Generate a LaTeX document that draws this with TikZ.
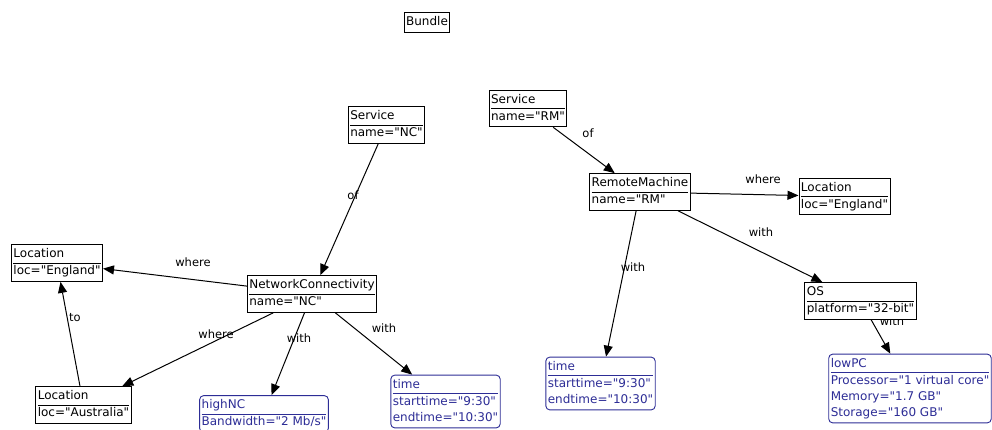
\documentclass[tikz,border=0pt]{standalone}
\usepackage{fontspec}
\setmainfont{DejaVu Sans}[Ligatures=TeXOff]
\usetikzlibrary{arrows.meta}
\usetikzlibrary{backgrounds}
\definecolor{instblue}{RGB}{45,45,150}
\setlength{\arrayrulewidth}{0.8pt}
\newcommand{\umlbox}[2]{\begin{tabular}{@{}l@{}}#1\\\hline #2\end{tabular}}
\newcommand{\umltitle}[1]{\begin{tabular}{@{}l@{}}#1\end{tabular}}

\begin{document}
\begin{tikzpicture}[x=1pt,y=-1pt]
  \tikzset{cls/.style = {shape=rectangle,draw,fill=white,line width=0.9pt,inner sep=2pt,font=\fontsize{12}{16}\selectfont}}
  \tikzset{inst/.style = {cls,draw=instblue,text=instblue,rounded corners=4pt}}
  \tikzset{lbl/.style = {inner sep=1pt,font=\fontsize{11.5}{14}\selectfont}}
  \tikzset{edge/.style = {-{Triangle[length=11pt,width=9pt]},line width=1pt}}
  \useasboundingbox (0,0) rectangle (992,429);

	\node[cls] (bundle) at (427,22.5) {\umltitle{Bundle}};

	\node[cls] (svcNC) at (386.5,125) {\umlbox{Service}{name="NC"}};
	\node[cls] (nc) at (312,294) {\umlbox{NetworkConnectivity}{name="NC"}};
	\node[cls] (locL) at (57,263) {\umlbox{Location}{loc="England"}};
	\node[cls] (locAus) at (83.5,405) {\umlbox{Location}{loc="Australia"}};
	\node[inst] (highNC) at (264,414) {\umlbox{highNC}{Bandwidth="2 Mb/s"}};
	\node[inst] (timeNC) at (445.5,401.5) {\umlbox{time}{starttime="9:30"\\endtime="10:30"}};

	\node[cls] (svcRM) at (528,108.5) {\umlbox{Service}{name="RM"}};
	\node[cls] (rm) at (640,192) {\umlbox{RemoteMachine}{name="RM"}};
	\node[cls] (locR) at (844.5,196.5) {\umlbox{Location}{loc="England"}};
	\node[cls] (os) at (860.5,301) {\umlbox{OS}{platform="32-bit"}};
	\node[inst] (timeRM) at (600.5,383.5) {\umlbox{time}{starttime="9:30"\\endtime="10:30"}};
	\node[inst] (lowPC) at (910,388.5) {\umlbox{lowPC}{Processor="1 virtual core"\\Memory="1.7 GB"\\Storage="160 GB"}};

  \begin{scope}[on background layer]
    \foreach \from/\to in {svcNC/nc, nc/locL, nc/locAus, locAus/locL, nc/highNC, nc/timeNC,
                           svcRM/rm, rm/locR, rm/os, rm/timeRM, os/lowPC}
    \draw[edge] (\from) -- (\to);

	\node[lbl] (ofNC) at (353,195) {of};
	\node[lbl] (whereL) at (193,262) {where};
	\node[lbl] (toL) at (75,318) {to};
	\node[lbl] (whereAus) at (216,334) {where};
	\node[lbl] (withHigh) at (299,338) {with};
	\node[lbl] (withTimeNC) at (384,328) {with};
	\node[lbl] (ofRM) at (588,133) {of};
	\node[lbl] (whereR) at (763,179) {where};
	\node[lbl] (withOS) at (761,232) {with};
	\node[lbl] (withTimeRM) at (633,267) {with};
	\node[lbl] (withLow) at (892,321) {with};
  \end{scope}

\end{tikzpicture}
\end{document}
